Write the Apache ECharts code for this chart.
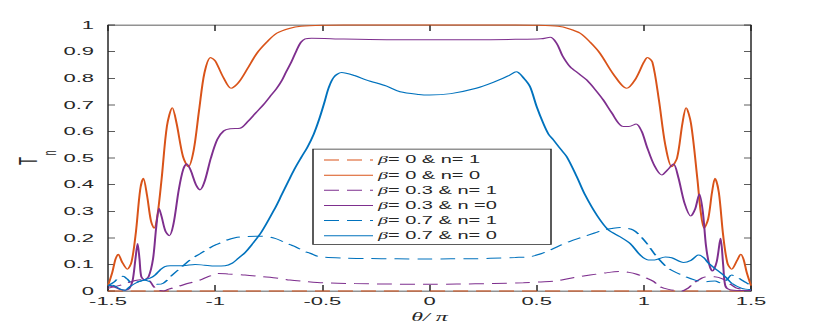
<!DOCTYPE html>
<html>
<head>
<meta charset="utf-8">
<script src="https://cdn.jsdelivr.net/npm/echarts@6/dist/echarts.min.js"></script>
<style>
  html, body { margin: 0; padding: 0; overflow: hidden; background: #fff; }
  /* the figure is drawn twice as tall, then squashed like the source image */
  #chart { width: 830px; height: 654px; transform: scaleY(0.5); transform-origin: 0 0; }
</style>
</head>
<body>
<div id="chart"></div>
<script>
// [theta/pi, T_n]
const b0n1 = [[-1.5, 0], [1.5, 0]];

const b0n0 = [
  [-1.5, 0.02], [-1.48, 0.07], [-1.465, 0.12], [-1.452, 0.138], [-1.435, 0.11], [-1.41, 0.082],
  [-1.39, 0.11], [-1.37, 0.22], [-1.35, 0.38], [-1.335, 0.424], [-1.318, 0.36], [-1.3, 0.265],
  [-1.285, 0.236], [-1.27, 0.28], [-1.25, 0.42], [-1.225, 0.62], [-1.2, 0.689], [-1.18, 0.63],
  [-1.15, 0.505], [-1.125, 0.467], [-1.1, 0.53], [-1.075, 0.68], [-1.05, 0.82], [-1.021, 0.878],
  [-1.0, 0.865], [-0.96, 0.8], [-0.926, 0.762], [-0.89, 0.785], [-0.85, 0.835], [-0.806, 0.893],
  [-0.76, 0.935], [-0.713, 0.969], [-0.65, 0.988], [-0.6, 0.995], [-0.5, 0.999], [-0.4, 1],
  [-0.2, 1], [0, 1], [0.2, 1], [0.4, 1], [0.5, 0.999], [0.6, 0.995], [0.65, 0.986],
  [0.703, 0.969], [0.75, 0.935], [0.796, 0.893], [0.858, 0.815], [0.92, 0.762], [0.96, 0.795],
  [1.0, 0.86], [1.017, 0.878], [1.04, 0.86], [1.07, 0.72], [1.1, 0.55], [1.13, 0.467],
  [1.155, 0.5], [1.18, 0.63], [1.197, 0.689], [1.22, 0.63], [1.25, 0.42], [1.265, 0.3],
  [1.281, 0.236], [1.3, 0.27], [1.318, 0.37], [1.332, 0.424], [1.35, 0.37], [1.37, 0.21],
  [1.39, 0.105], [1.41, 0.082], [1.435, 0.115], [1.452, 0.138], [1.465, 0.12], [1.48, 0.07],
  [1.5, 0.02]
];

const b03n1 = [
  [-1.5, 0.01], [-1.45, 0.02], [-1.4, 0.033], [-1.35, 0.042], [-1.31, 0.04], [-1.29, 0.02],
  [-1.27, 0.004], [-1.24, 0.0], [-1.22, 0.006], [-1.17, 0.018], [-1.12, 0.03], [-1.071, 0.041],
  [-1.03, 0.055], [-0.985, 0.066], [-0.94, 0.064], [-0.861, 0.06], [-0.78, 0.054], [-0.705, 0.048],
  [-0.651, 0.041], [-0.581, 0.036], [-0.495, 0.031], [-0.35, 0.028], [-0.184, 0.026], [0, 0.025],
  [0.127, 0.026], [0.3, 0.028], [0.438, 0.031], [0.52, 0.034], [0.594, 0.038], [0.67, 0.05],
  [0.749, 0.06], [0.82, 0.068], [0.889, 0.073], [0.93, 0.07], [0.967, 0.063], [1.014, 0.048],
  [1.045, 0.036], [1.076, 0.016], [1.115, 0.006], [1.154, 0.001], [1.177, 0.0], [1.205, 0.01],
  [1.239, 0.033], [1.286, 0.053], [1.33, 0.054], [1.37, 0.045], [1.4, 0.028], [1.43, 0.012],
  [1.47, 0.006], [1.5, 0.006]
];

const b03n0 = [
  [-1.5, 0.02], [-1.47, 0.015], [-1.44, 0.005], [-1.42, 0.003], [-1.4, 0.01], [-1.385, 0.04],
  [-1.372, 0.12], [-1.362, 0.179], [-1.353, 0.12], [-1.345, 0.055], [-1.33, 0.042], [-1.31, 0.055],
  [-1.29, 0.12], [-1.275, 0.24], [-1.262, 0.311], [-1.25, 0.28], [-1.232, 0.225], [-1.214, 0.208],
  [-1.195, 0.25], [-1.17, 0.38], [-1.15, 0.455], [-1.133, 0.478], [-1.115, 0.455], [-1.09, 0.4],
  [-1.071, 0.38], [-1.05, 0.41], [-1.02, 0.5], [-0.99, 0.57], [-0.96, 0.602], [-0.93, 0.61],
  [-0.884, 0.612], [-0.85, 0.635], [-0.81, 0.67], [-0.775, 0.7], [-0.745, 0.73], [-0.713, 0.762],
  [-0.69, 0.79], [-0.67, 0.822], [-0.645, 0.86], [-0.62, 0.905], [-0.6, 0.935], [-0.58, 0.948],
  [-0.55, 0.95], [-0.4, 0.947], [-0.2, 0.945], [0, 0.945], [0.2, 0.945], [0.4, 0.946],
  [0.52, 0.948], [0.563, 0.954], [0.594, 0.93], [0.62, 0.885], [0.656, 0.843], [0.7, 0.815],
  [0.734, 0.793], [0.77, 0.76], [0.811, 0.718], [0.85, 0.67], [0.897, 0.62], [0.93, 0.618],
  [0.964, 0.628], [0.99, 0.6], [1.014, 0.543], [1.05, 0.47], [1.084, 0.436], [1.11, 0.455],
  [1.138, 0.477], [1.16, 0.43], [1.19, 0.33], [1.219, 0.282], [1.24, 0.31], [1.259, 0.365],
  [1.275, 0.3], [1.29, 0.17], [1.305, 0.1], [1.32, 0.075], [1.34, 0.11], [1.358, 0.198],
  [1.37, 0.1], [1.38, 0.02], [1.4, 0.005], [1.45, 0.002], [1.5, 0.002]
];

const b07n1 = [
  [-1.5, 0.02], [-1.47, 0.035], [-1.45, 0.05], [-1.43, 0.055], [-1.41, 0.045], [-1.39, 0.03],
  [-1.36, 0.035], [-1.33, 0.04], [-1.3, 0.034], [-1.27, 0.025], [-1.242, 0.029], [-1.2, 0.06],
  [-1.15, 0.095], [-1.117, 0.117], [-1.071, 0.14], [-1.03, 0.16], [-0.993, 0.175], [-0.95, 0.19],
  [-0.907, 0.2], [-0.85, 0.205], [-0.78, 0.206], [-0.721, 0.198], [-0.682, 0.185], [-0.651, 0.174],
  [-0.627, 0.167], [-0.581, 0.148], [-0.557, 0.142], [-0.52, 0.13], [-0.495, 0.127], [-0.4, 0.124],
  [-0.3, 0.122], [-0.15, 0.121], [-0.028, 0.12], [0.1, 0.121], [0.2, 0.121], [0.283, 0.123],
  [0.4, 0.126], [0.469, 0.129], [0.52, 0.14], [0.563, 0.154], [0.6, 0.168], [0.65, 0.185],
  [0.718, 0.204], [0.77, 0.218], [0.811, 0.229], [0.85, 0.235], [0.889, 0.239], [0.92, 0.236],
  [0.951, 0.229], [0.98, 0.21], [1.014, 0.179], [1.06, 0.129], [1.115, 0.085], [1.177, 0.06],
  [1.239, 0.041], [1.286, 0.035], [1.332, 0.038], [1.36, 0.03], [1.385, 0.04], [1.41, 0.06],
  [1.435, 0.052], [1.457, 0.041], [1.48, 0.03], [1.5, 0.02]
];

const b07n0 = [
  [-1.5, 0.02], [-1.48, 0.022], [-1.46, 0.015], [-1.44, 0.006], [-1.42, 0.003], [-1.4, 0.015],
  [-1.37, 0.03], [-1.335, 0.041], [-1.304, 0.048], [-1.28, 0.06], [-1.257, 0.079], [-1.235, 0.092],
  [-1.21, 0.095], [-1.15, 0.095], [-1.094, 0.1], [-1.05, 0.097], [-1.0, 0.094], [-0.954, 0.095],
  [-0.92, 0.105], [-0.892, 0.123], [-0.86, 0.145], [-0.83, 0.173], [-0.783, 0.223], [-0.721, 0.311],
  [-0.69, 0.361], [-0.66, 0.41], [-0.63, 0.458], [-0.6, 0.5], [-0.57, 0.54], [-0.54, 0.59],
  [-0.515, 0.645], [-0.49, 0.71], [-0.47, 0.765], [-0.445, 0.805], [-0.41, 0.821], [-0.35, 0.81],
  [-0.293, 0.793], [-0.2, 0.77], [-0.137, 0.749], [-0.05, 0.739], [0, 0.737], [0.1, 0.742],
  [0.218, 0.762], [0.3, 0.785], [0.37, 0.81], [0.405, 0.824], [0.44, 0.8], [0.469, 0.768],
  [0.5, 0.693], [0.531, 0.63], [0.555, 0.59], [0.578, 0.568], [0.61, 0.535], [0.64, 0.505],
  [0.687, 0.43], [0.726, 0.361], [0.78, 0.286], [0.835, 0.229], [0.889, 0.204], [0.936, 0.179],
  [0.983, 0.135], [1.02, 0.117], [1.05, 0.117], [1.1, 0.128], [1.13, 0.125], [1.185, 0.107],
  [1.22, 0.115], [1.255, 0.135], [1.28, 0.125], [1.302, 0.104], [1.341, 0.079], [1.38, 0.054],
  [1.41, 0.029], [1.457, 0.01], [1.5, 0.005]
];

const legendNames = ['β= 0 & n= 1', 'β= 0 & n= 0', 'β= 0.3 & n= 1', 'β= 0.3 & n =0', 'β= 0.7 & n= 1', 'β= 0.7 & n= 0'];
const curves = [b0n1, b0n0, b03n1, b03n0, b07n1, b07n0];
const colors = ['#D95319', '#D95319', '#7E2F8E', '#7E2F8E', '#0072BD', '#0072BD'];
const dashed = [true, false, true, false, true, false];

const axisColor = '#262626';
const font = 'Liberation Sans, Arial, sans-serif';

var chart = echarts.init(document.getElementById('chart'), null, { renderer: 'svg' });

var series = curves.map(function (pts, i) {
  return {
    name: legendNames[i],
    type: 'line',
    data: pts,
    symbol: 'none',
    smooth: 0.3,
    clip: false,
    lineStyle: {
      color: colors[i],
      width: 2,
      type: dashed[i] ? [15, 8] : 'solid'
    },
    itemStyle: { color: colors[i] }
  };
});

function frameAxis(extra) {
  return Object.assign({
    type: 'value',
    axisLine: { show: true, onZero: false, lineStyle: { color: axisColor, width: 1.5 } },
    axisTick: { show: true, inside: true, lineStyle: { color: axisColor, width: 1.5 } },
    splitLine: { show: false }
  }, extra);
}

var option = {
  animation: false,
  grid: { left: 108, right: 79, top: 50, bottom: 72 },
  xAxis: [
    frameAxis({
      min: -1.5, max: 1.5, interval: 0.5,
      axisTick: { show: true, inside: true, length: 12, lineStyle: { color: axisColor, width: 1.5 } },
      axisLabel: { fontSize: 22, color: axisColor, fontFamily: font, margin: 10 },
      name: 'θ/ π', nameLocation: 'middle', nameGap: 40,
      nameTextStyle: { fontSize: 24, fontStyle: 'italic', fontFamily: 'Liberation Serif, serif', color: axisColor }
    }),
    frameAxis({
      position: 'top', min: -1.5, max: 1.5, interval: 0.5,
      axisTick: { show: true, inside: true, length: 12, lineStyle: { color: axisColor, width: 1.5 } },
      axisLabel: { show: false }
    })
  ],
  yAxis: [
    frameAxis({
      min: 0, max: 1, interval: 0.1,
      axisTick: { show: true, inside: true, length: 7, lineStyle: { color: axisColor, width: 1.5 } },
      axisLabel: { fontSize: 22, color: axisColor, fontFamily: font, margin: 14 }
    }),
    frameAxis({
      position: 'right', min: 0, max: 1, interval: 0.1,
      axisTick: { show: true, inside: true, length: 7, lineStyle: { color: axisColor, width: 1.5 } },
      axisLabel: { show: false }
    })
  ],
  legend: {
    data: legendNames,
    orient: 'vertical',
    left: 313,
    top: 298,
    padding: [12, 13, 7, 10],
    itemWidth: 49,
    itemHeight: 14,
    itemGap: 10.3,
    backgroundColor: '#fff',
    borderColor: axisColor,
    borderWidth: 1.5,
    selectedMode: false,
    itemStyle: { opacity: 0 },
    formatter: function (name) {
      return '{b|β}' + name.slice(1);
    },
    textStyle: {
      fontSize: 20, lineHeight: 20, width: 160, color: axisColor, fontFamily: font,
      rich: {
        b: { fontSize: 20, fontStyle: 'italic', fontFamily: 'Liberation Serif, serif', color: axisColor }
      }
    }
  },
  // y-axis title T with subscript n, placed like the source
  graphic: [
    {
      type: 'text', x: 28, y: 322, rotation: Math.PI / 2,
      style: { text: 'T', fontSize: 26, fontFamily: font, fill: axisColor, align: 'center', verticalAlign: 'middle' }
    },
    {
      type: 'text', x: 50, y: 306, rotation: Math.PI / 2,
      style: { text: 'n', fontSize: 18, fontFamily: font, fill: axisColor, align: 'center', verticalAlign: 'middle' }
    }
  ],
  series: series
};

chart.setOption(option);
</script>
</body>
</html>
